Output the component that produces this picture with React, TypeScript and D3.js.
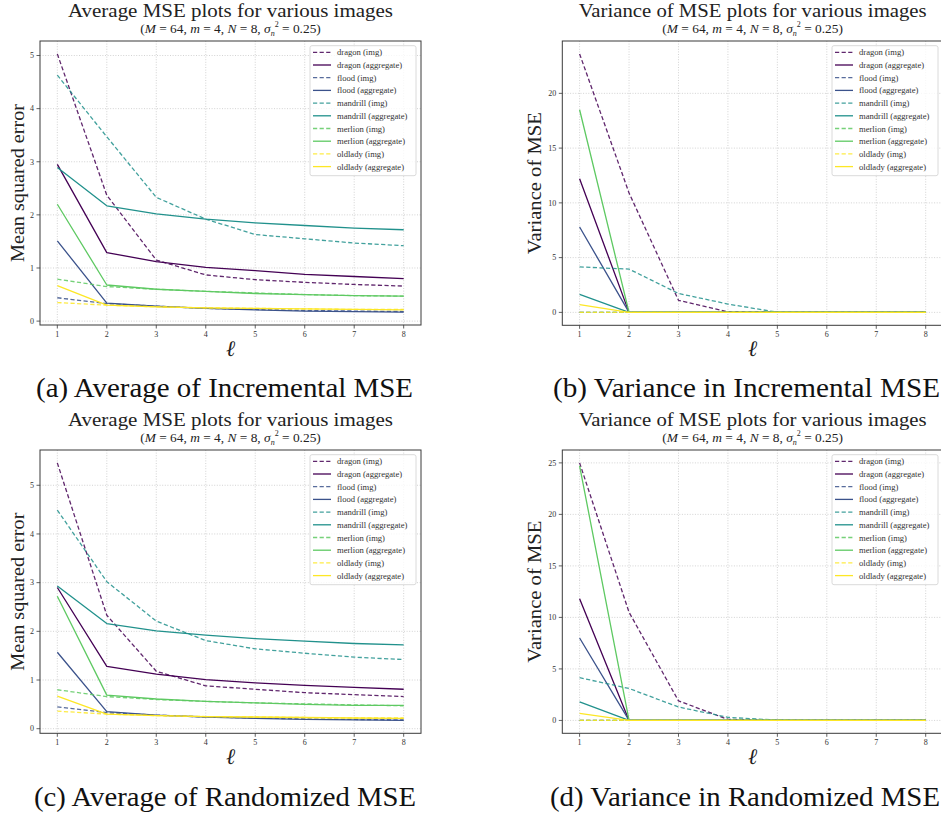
import React from 'react';
import * as d3 from 'd3';

const levels = [1, 2, 3, 4, 5, 6, 7, 8];
const imageNames = ['dragon', 'flood', 'mandrill', 'merlion', 'oldlady'];
const kinds = ['img', 'aggregate'];

// (a) Average of Incremental MSE
const incAvgDragonImg = [5.03, 2.37, 1.15, 0.87, 0.78, 0.73, 0.69, 0.66];
const incAvgDragonAgg = [2.95, 1.29, 1.12, 1.01, 0.95, 0.88, 0.84, 0.80];
const incAvgFloodImg = [0.44, 0.33, 0.28, 0.24, 0.22, 0.20, 0.19, 0.18];
const incAvgFloodAgg = [1.51, 0.34, 0.28, 0.24, 0.21, 0.19, 0.18, 0.17];
const incAvgMandrillImg = [4.63, 3.47, 2.33, 1.92, 1.63, 1.55, 1.47, 1.42];
const incAvgMandrillAgg = [2.89, 2.17, 2.02, 1.92, 1.85, 1.80, 1.75, 1.72];
const incAvgMerlionImg = [0.79, 0.65, 0.60, 0.56, 0.53, 0.50, 0.48, 0.47];
const incAvgMerlionAgg = [2.20, 0.68, 0.60, 0.56, 0.52, 0.50, 0.48, 0.47];
const incAvgOldladyImg = [0.35, 0.30, 0.27, 0.25, 0.24, 0.23, 0.22, 0.22];
const incAvgOldladyAgg = [0.67, 0.30, 0.27, 0.25, 0.24, 0.23, 0.22, 0.21];

// (b) Variance in Incremental MSE
const incVarDragonImg = [23.6, 10.9, 1.1, 0.05, 0, 0, 0, 0];
const incVarDragonAgg = [12.2, 0, 0, 0, 0, 0, 0, 0];
const incVarFloodImg = [0, 0, 0, 0, 0, 0, 0, 0];
const incVarFloodAgg = [7.8, 0, 0, 0, 0, 0, 0, 0];
const incVarMandrillImg = [4.15, 3.95, 1.73, 0.76, 0.01, 0, 0, 0];
const incVarMandrillAgg = [1.64, 0, 0, 0, 0, 0, 0, 0];
const incVarMerlionImg = [0, 0, 0, 0, 0, 0, 0, 0];
const incVarMerlionAgg = [18.5, 0, 0, 0, 0, 0, 0, 0];
const incVarOldladyImg = [0, 0, 0, 0, 0, 0, 0, 0];
const incVarOldladyAgg = [0.7, 0, 0, 0, 0, 0, 0, 0];

// (c) Average of Randomized MSE
const rndAvgDragonImg = [5.46, 2.33, 1.18, 0.88, 0.81, 0.74, 0.70, 0.66];
const rndAvgDragonAgg = [2.90, 1.28, 1.12, 1.01, 0.94, 0.89, 0.85, 0.81];
const rndAvgFloodImg = [0.45, 0.33, 0.28, 0.24, 0.22, 0.20, 0.19, 0.18];
const rndAvgFloodAgg = [1.57, 0.35, 0.28, 0.24, 0.21, 0.19, 0.18, 0.17];
const rndAvgMandrillImg = [4.49, 3.02, 2.21, 1.81, 1.64, 1.55, 1.47, 1.42];
const rndAvgMandrillAgg = [2.93, 2.16, 2.01, 1.92, 1.85, 1.80, 1.75, 1.72];
const rndAvgMerlionImg = [0.80, 0.66, 0.60, 0.56, 0.53, 0.51, 0.49, 0.47];
const rndAvgMerlionAgg = [2.72, 0.69, 0.61, 0.56, 0.53, 0.50, 0.48, 0.48];
const rndAvgOldladyImg = [0.36, 0.30, 0.27, 0.25, 0.24, 0.23, 0.22, 0.22];
const rndAvgOldladyAgg = [0.67, 0.30, 0.27, 0.25, 0.24, 0.23, 0.22, 0.21];

// (d) Variance in Randomized MSE
const rndVarDragonImg = [25.0, 10.5, 1.9, 0.1, 0, 0, 0, 0];
const rndVarDragonAgg = [11.8, 0, 0, 0, 0, 0, 0, 0];
const rndVarFloodImg = [0, 0, 0, 0, 0, 0, 0, 0];
const rndVarFloodAgg = [8.0, 0, 0, 0, 0, 0, 0, 0];
const rndVarMandrillImg = [4.15, 3.1, 1.3, 0.3, 0.02, 0, 0, 0];
const rndVarMandrillAgg = [1.8, 0, 0, 0, 0, 0, 0, 0];
const rndVarMerlionImg = [0, 0, 0, 0, 0, 0, 0, 0];
const rndVarMerlionAgg = [24.7, 0, 0, 0, 0, 0, 0, 0];
const rndVarOldladyImg = [0, 0, 0, 0, 0, 0, 0, 0];
const rndVarOldladyAgg = [0.68, 0, 0, 0, 0, 0, 0, 0];

const avgTicks = [0, 1, 2, 3, 4, 5];
const incVarTicks = [0, 5, 10, 15, 20];
const rndVarTicks = [0, 5, 10, 15, 20, 25];

const avgTitle = 'Average MSE plots for various images';
const varTitle = 'Variance of MSE plots for various images';
const avgYLabel = 'Mean squared error';
const varYLabel = 'Variance of MSE';
const captions = [
  '(a) Average of Incremental MSE',
  '(b) Variance in Incremental MSE',
  '(c) Average of Randomized MSE',
  '(d) Variance in Randomized MSE',
];

const SERIF = "'Liberation Serif', 'Times New Roman', serif";

type PanelSpec = {
  left: number; right: number; top: number; bottom: number;
  series: number[][];
  yTicks: number[];
  title: string; titleLen: number;
  ylabel: string; ylabelLen: number; ylabelX: number;
  caption: string; captionX: number; captionY: number; captionLen: number;
};

function Panel({ p }: { p: PanelSpec }) {
  const [xmin, xmax] = d3.extent(levels) as [number, number];
  const xpad = (xmax - xmin) * 0.05;
  const x = d3.scaleLinear().domain([xmin - xpad, xmax + xpad]).range([p.left, p.right]);
  const all = p.series.flat();
  const [ymin, ymax] = d3.extent(all) as [number, number];
  const ypad = (ymax - ymin) * 0.05;
  const y = d3.scaleLinear().domain([ymin - ypad, ymax + ypad]).range([p.bottom, p.top]);
  const line = d3.line<number>().x((_, i) => x(levels[i])).y((d) => y(d));
  const cx = (p.left + p.right) / 2;
  const cy = (p.top + p.bottom) / 2;
  const axisColor = '#3a3a3a';

  const legW = 106;
  const legH = 130;
  const legX = p.right - 5 - legW;
  const legY = p.top + 4.7;
  const rowH = 12.7;

  const entries: { name: string; color: string; dashed: boolean; data: number[] }[] = [];
  imageNames.forEach((nm, i) => {
    kinds.forEach((k, j) => {
      entries.push({
        name: `${nm} (${k})`,
        color: d3.interpolateViridis(i / (imageNames.length - 1)),
        dashed: j === 0,
        data: p.series[i * 2 + j],
      });
    });
  });

  const subY = p.top - 8;

  return (
    <g>
      {/* title */}
      <text x={cx} y={p.top - 23.7} textAnchor="middle" fontSize={19.5} fill="#222"
        textLength={p.titleLen} lengthAdjust="spacingAndGlyphs">{p.title}</text>
      <text x={cx} y={subY} textAnchor="middle" fontSize={13.4} fill="#222">
        <tspan>(</tspan>
        <tspan fontStyle="italic">M</tspan>
        <tspan> = 64, </tspan>
        <tspan fontStyle="italic">m</tspan>
        <tspan> = 4, </tspan>
        <tspan fontStyle="italic">N</tspan>
        <tspan> = 8, </tspan>
        <tspan fontStyle="italic">σ</tspan>
        <tspan fontSize={8} fontStyle="italic" dy={3}>n</tspan>
        <tspan fontSize={8} dy={-9}>2</tspan>
        <tspan dy={6}> = 0.25)</tspan>
      </text>

      {/* grid */}
      {levels.map((t) => (
        <line key={'gx' + t} x1={x(t)} x2={x(t)} y1={p.top} y2={p.bottom}
          stroke="#c8c8c8" strokeWidth={0.8} strokeDasharray="1,1.6" />
      ))}
      {p.yTicks.map((t) => (
        <line key={'gy' + t} x1={p.left} x2={p.right} y1={y(t)} y2={y(t)}
          stroke="#c8c8c8" strokeWidth={0.8} strokeDasharray="1,1.6" />
      ))}

      {/* series */}
      {entries.map((e, i) => (
        <path key={'s' + i} d={line(e.data) || ''} fill="none" stroke={e.color}
          strokeWidth={1.3} strokeOpacity={e.dashed ? 0.85 : 1}
          strokeDasharray={e.dashed ? '4.2,2.4' : undefined} strokeLinejoin="round" />
      ))}

      {/* frame */}
      <rect x={p.left} y={p.top} width={p.right - p.left} height={p.bottom - p.top}
        fill="none" stroke={axisColor} strokeWidth={1} />

      {/* ticks */}
      {levels.map((t) => (
        <g key={'tx' + t}>
          <line x1={x(t)} x2={x(t)} y1={p.bottom} y2={p.bottom + 3.5} stroke={axisColor} strokeWidth={0.8} />
          <text x={x(t)} y={p.bottom + 11.5} textAnchor="middle" fontSize={8} fill="#333">{t}</text>
        </g>
      ))}
      {p.yTicks.map((t) => (
        <g key={'ty' + t}>
          <line x1={p.left - 3.5} x2={p.left} y1={y(t)} y2={y(t)} stroke={axisColor} strokeWidth={0.8} />
          <text x={p.left - 6} y={y(t) + 2.8} textAnchor="end" fontSize={8} fill="#333">{t}</text>
        </g>
      ))}

      {/* axis labels */}
      <text x={cx} y={p.bottom + 31} textAnchor="middle" fontSize={22} fontStyle="italic"
        fontFamily="'DejaVu Serif', serif" fill="#222">ℓ</text>
      <text transform={`translate(${p.ylabelX},${cy}) rotate(-90)`} textAnchor="middle"
        fontSize={19} fill="#222" textLength={p.ylabelLen} lengthAdjust="spacingAndGlyphs">{p.ylabel}</text>

      {/* legend */}
      <rect x={legX} y={legY} width={legW} height={legH} rx={2} ry={2}
        fill="#fff" fillOpacity={0.8} stroke="#d0d0d0" strokeWidth={0.8} />
      {entries.map((e, i) => {
        const ly = legY + 6.6 + i * rowH;
        return (
          <g key={'l' + i}>
            <line x1={legX + 3} x2={legX + 21} y1={ly} y2={ly} stroke={e.color}
              strokeWidth={1.3} strokeOpacity={e.dashed ? 0.85 : 1}
              strokeDasharray={e.dashed ? '4.2,2.4' : undefined} />
            <text x={legX + 27} y={ly + 3} fontSize={8.6} fill="#333">{e.name}</text>
          </g>
        );
      })}

      {/* caption */}
      <text x={p.captionX} y={p.captionY} textAnchor="middle" fontSize={26.5} fill="#111"
        textLength={p.captionLen} lengthAdjust="spacingAndGlyphs">{p.caption}</text>
    </g>
  );
}

export default function App() {
  const panels: PanelSpec[] = [
    {
      left: 40, right: 421, top: 41, bottom: 325,
      series: [incAvgDragonImg, incAvgDragonAgg, incAvgFloodImg, incAvgFloodAgg, incAvgMandrillImg,
        incAvgMandrillAgg, incAvgMerlionImg, incAvgMerlionAgg, incAvgOldladyImg, incAvgOldladyAgg],
      yTicks: avgTicks, title: avgTitle, titleLen: 325,
      ylabel: avgYLabel, ylabelLen: 158, ylabelX: 23.5,
      caption: captions[0], captionX: 224.5, captionY: 396.5, captionLen: 377,
    },
    {
      left: 562.3, right: 943, top: 41, bottom: 325.3,
      series: [incVarDragonImg, incVarDragonAgg, incVarFloodImg, incVarFloodAgg, incVarMandrillImg,
        incVarMandrillAgg, incVarMerlionImg, incVarMerlionAgg, incVarOldladyImg, incVarOldladyAgg],
      yTicks: incVarTicks, title: varTitle, titleLen: 348,
      ylabel: varYLabel, ylabelLen: 142, ylabelX: 541,
      caption: captions[1], captionX: 746.5, captionY: 396.5, captionLen: 387,
    },
    {
      left: 40, right: 421, top: 450, bottom: 733.3,
      series: [rndAvgDragonImg, rndAvgDragonAgg, rndAvgFloodImg, rndAvgFloodAgg, rndAvgMandrillImg,
        rndAvgMandrillAgg, rndAvgMerlionImg, rndAvgMerlionAgg, rndAvgOldladyImg, rndAvgOldladyAgg],
      yTicks: avgTicks, title: avgTitle, titleLen: 325,
      ylabel: avgYLabel, ylabelLen: 158, ylabelX: 23.5,
      caption: captions[2], captionX: 225, captionY: 806, captionLen: 382,
    },
    {
      left: 562.3, right: 943, top: 450, bottom: 733.3,
      series: [rndVarDragonImg, rndVarDragonAgg, rndVarFloodImg, rndVarFloodAgg, rndVarMandrillImg,
        rndVarMandrillAgg, rndVarMerlionImg, rndVarMerlionAgg, rndVarOldladyImg, rndVarOldladyAgg],
      yTicks: rndVarTicks, title: varTitle, titleLen: 348,
      ylabel: varYLabel, ylabelLen: 142, ylabelX: 541,
      caption: captions[3], captionX: 745, captionY: 806, captionLen: 390,
    },
  ];
  return (
    <svg width={941} height={816} viewBox="0 0 941 816"
      style={{ position: 'absolute', left: 0, top: 0, background: '#fff', display: 'block' }}
      fontFamily={SERIF}>
      <rect x={0} y={0} width={941} height={816} fill="#fff" />
      {panels.map((p, i) => <Panel key={i} p={p} />)}
    </svg>
  );
}
